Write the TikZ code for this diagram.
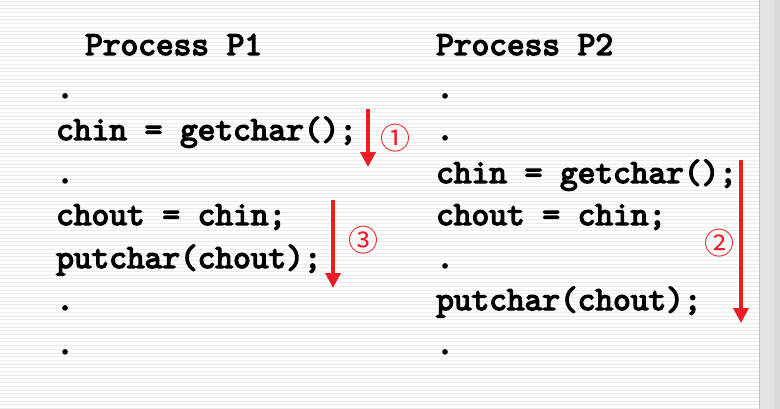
\documentclass[tikz,border=0pt]{standalone}
\usepackage{fontspec}
\newfontfamily\codefont{lmmono10-regular.otf}[FakeBold=4]
\newfontfamily\circfont{Noto Sans CJK SC}
\usetikzlibrary{arrows.meta}
\definecolor{arrowred}{HTML}{EC1C24}
\definecolor{stripe}{HTML}{ECECEC}
\definecolor{barfill}{HTML}{E3E3E3}
\definecolor{baredge}{HTML}{C4C4C4}
\definecolor{barside}{HTML}{DADADA}

\begin{document}
\begin{tikzpicture}[x=1pt,y=-1pt,
  code/.style={anchor=base west,inner sep=0pt,font=\fontsize{33.7}{34}\selectfont\codefont\bfseries},
  numlabel/.style={inner sep=0pt,text=arrowred,font=\fontsize{30}{30}\selectfont\circfont},
  flow/.style={draw=arrowred,line width=3.5pt,-{Triangle[width=15pt,length=15pt]}}]
  \useasboundingbox (0,0) rectangle (780,409);
  % striped page and the grey bar at the right
  \foreach \y in {1.5,5.2,...,409}
    \draw[stripe,line width=1pt] (0,\y)--(759,\y);
  \fill[barfill] (759,0) rectangle (774,409);
  \fill[barside] (774,0) rectangle (780,409);
  \draw[baredge] (759.5,0)--(759.5,409);

  % process P1
  \node[code] (p1title) at (85,55) {Process P1};
  \node[code] (p1a) at (56,98) {.};
  \node[code] (p1in) at (56,140) {chin = getchar();};
  \node[code] (p1b) at (56,183) {.};
  \node[code] (p1copy) at (56,225) {chout = chin;};
  \node[code] (p1out) at (56,268) {putchar(chout);};
  \node[code] (p1c) at (56,310) {.};
  \node[code] (p1d) at (56,354) {.};

  % process P2
  \node[code] (p2title) at (436,55) {Process P2};
  \node[code] (p2a) at (436,98) {.};
  \node[code] (p2b) at (436,140) {.};
  \node[code] (p2in) at (436,183) {chin = getchar();};
  \node[code] (p2copy) at (436,225) {chout = chin;};
  \node[code] (p2c) at (436,268) {.};
  \node[code] (p2out) at (436,310) {putchar(chout);};
  \node[code] (p2d) at (436,354) {.};

  % order of execution
  \coordinate (s1) at (368,109);
  \coordinate (e1) at (368,167);
  \coordinate (s3) at (333,200);
  \coordinate (e3) at (333,288);
  \coordinate (s2) at (741,160);
  \coordinate (e2) at (741,323);
  \draw[flow] (s1)--(e1);
  \draw[flow] (s3)--(e3);
  \draw[flow] (s2)--(e2);
  \node[numlabel] (n1) at (395,138) {①};
  \node[numlabel] (n3) at (363,240) {③};
  \node[numlabel] (n2) at (719,243) {②};
\end{tikzpicture}
\end{document}
